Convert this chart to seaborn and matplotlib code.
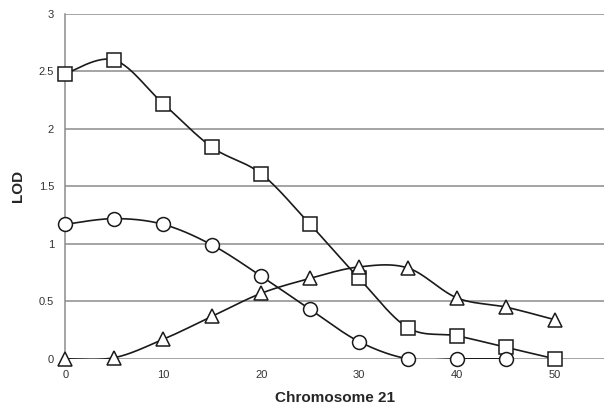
import numpy as np
import pandas as pd
import matplotlib
matplotlib.use("Agg")
import matplotlib.pyplot as plt
import seaborn as sns

# Данные
position = [0, 5, 10, 15, 20, 25, 30, 35, 40, 45, 50]
lod_square = [2.48, 2.60, 2.22, 1.84, 1.61, 1.17, 0.70, 0.27, 0.20, 0.10, 0.0]
lod_circle = [1.17, 1.22, 1.17, 0.99, 0.72, 0.43, 0.15, 0.0, 0.0, 0.0]
lod_triangle = [0.0, 0.01, 0.17, 0.37, 0.57, 0.70, 0.80, 0.79, 0.53, 0.45, 0.34]

y_ticks = [0, 0.5, 1, 1.5, 2, 2.5, 3]
y_tick_labels = ["0", "0.5", "1", "1.5", "2", "2.5", "3"]
x_ticks = [0, 10, 20, 30, 40, 50]


def smooth(xs, ys, n=30):
    # сглаживание как в Excel: кривые Безье через точки
    xs = np.asarray(xs, float)
    ys = np.asarray(ys, float)
    px = np.r_[xs[0], xs, xs[-1]]
    py = np.r_[ys[0], ys, ys[-1]]
    out_x, out_y = [], []
    t = np.linspace(0, 1, n)
    for i in range(1, len(px) - 2):
        p0 = np.array([px[i], py[i]])
        p3 = np.array([px[i + 1], py[i + 1]])
        p1 = p0 + (np.array([px[i + 1], py[i + 1]]) - np.array([px[i - 1], py[i - 1]])) / 6
        p2 = p3 - (np.array([px[i + 2], py[i + 2]]) - np.array([px[i], py[i]])) / 6
        b = ((1 - t) ** 3)[:, None] * p0 + (3 * (1 - t) ** 2 * t)[:, None] * p1 \
            + (3 * (1 - t) * t ** 2)[:, None] * p2 + (t ** 3)[:, None] * p3
        out_x.extend(b[:, 0])
        out_y.extend(b[:, 1])
    return out_x, out_y


sns.set_style("white")
plt.rcParams['font.family'] = ['Liberation Sans', 'DejaVu Sans']

fig = plt.figure(figsize=(6.04, 4.12), dpi=100)
ax = fig.add_axes([0.108, 0.129, 0.892, 0.837])

series = [
    (lod_square, "s"),
    (lod_circle, "o"),
    (lod_triangle, "^"),
]
for vals, marker in series:
    xs = position[:len(vals)]
    sx, sy = smooth(xs, vals)
    sns.lineplot(x=sx, y=sy, ax=ax, color="#1a1a1a", linewidth=1.2, sort=False,
                 estimator=None, zorder=3)
    ax.plot(xs, vals, linestyle="none", marker=marker, markersize=10,
            markerfacecolor="white", markeredgecolor="#1a1a1a",
            markeredgewidth=1.1, zorder=4, clip_on=False)

ax.set_xlim(0, 55)
ax.set_ylim(0, 3)
ax.set_yticks(y_ticks)
ax.set_yticklabels(y_tick_labels)
ax.set_xticks(x_ticks)
ax.yaxis.grid(True, color="#8c8c8c", linewidth=1.1)
ax.xaxis.grid(False)
for side in ["top", "right", "bottom"]:
    ax.spines[side].set_visible(False)
ax.spines["left"].set_color("#8c8c8c")
ax.spines["left"].set_linewidth(1.1)
ax.tick_params(axis="both", length=0, labelsize=8, labelcolor="#333333", pad=8)

ax.set_xlabel("Chromosome 21", fontsize=11, fontweight="bold", labelpad=8)
ax.set_ylabel("LOD", fontsize=11, fontweight="bold", labelpad=10)

fig.savefig("out.png", dpi=100)
